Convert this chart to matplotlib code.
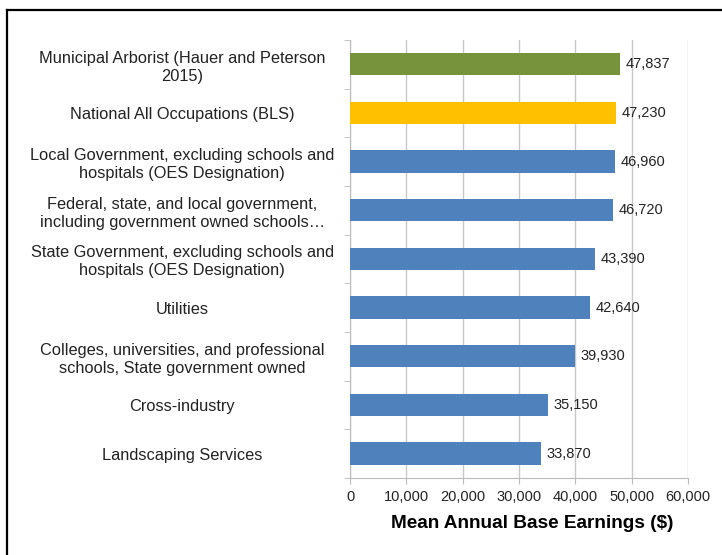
import matplotlib.pyplot as plt
from matplotlib.lines import Line2D

plt.rcParams['font.family'] = ['Liberation Sans', 'DejaVu Sans']

# data, top to bottom
categories = [
    "Municipal Arborist (Hauer and Peterson\n2015)",
    "National All Occupations (BLS)",
    "Local Government, excluding schools and\nhospitals (OES Designation)",
    "Federal, state, and local government,\nincluding government owned schools\u2026",
    "State Government, excluding schools and\nhospitals (OES Designation)",
    "Utilities",
    "Colleges, universities, and professional\nschools, State government owned",
    "Cross-industry",
    "Landscaping Services",
]
earnings = [47837, 47230, 46960, 46720, 43390, 42640, 39930, 35150, 33870]
colors = ["#77933C", "#FFC000"] + ["#4F81BD"] * 7
xticks = [0, 10000, 20000, 30000, 40000, 50000, 60000]

fig = plt.figure(figsize=(7.22, 5.55), dpi=100)
ax = fig.add_axes([0.485, 0.139, 0.468, 0.789])

ypos = list(range(len(categories)))[::-1]
ax.barh(ypos, earnings, height=0.46, color=colors, zorder=3)
for y, v in zip(ypos, earnings):
    ax.text(v + 1000, y, f"{v:,}", va='center', ha='left', fontsize=10.5, color='#222222')

ax.set_xlim(0, 60000)
ax.set_ylim(-0.5, len(categories) - 0.5)
ax.set_xticks(xticks)
ax.set_xticklabels([f"{t:,}" for t in xticks], fontsize=10.5, color='#222222')
ax.set_yticks(ypos)
ax.set_yticklabels(categories, fontsize=11.8, color='#222222', ha='center', linespacing=1.25)
ax.tick_params(axis='y', length=0, pad=121)
ax.set_yticks([i + 0.5 for i in range(-1, len(categories))], minor=True)
ax.tick_params(axis='y', which='minor', length=4, color='#BBBBBB')
ax.tick_params(axis='x', length=4, color='#BBBBBB', pad=5)
ax.grid(axis='x', color='#C8C8C8', linewidth=1, zorder=0)
for s in ['top', 'right']:
    ax.spines[s].set_visible(False)
ax.spines['left'].set_color('#BBBBBB')
ax.spines['bottom'].set_color('#BBBBBB')
ax.set_xlabel("Mean Annual Base Earnings ($)", fontsize=13.7, fontweight='bold')
ax.xaxis.set_label_coords(0.538, -0.085)

# frame lines (left and top)
fig.add_artist(Line2D([0.0097, 0.0097], [0, 0.982], transform=fig.transFigure, color='black', lw=1.6))
fig.add_artist(Line2D([0.0097, 1.0], [0.982, 0.982], transform=fig.transFigure, color='black', lw=1.6))

fig.savefig("out.png", dpi=100)
